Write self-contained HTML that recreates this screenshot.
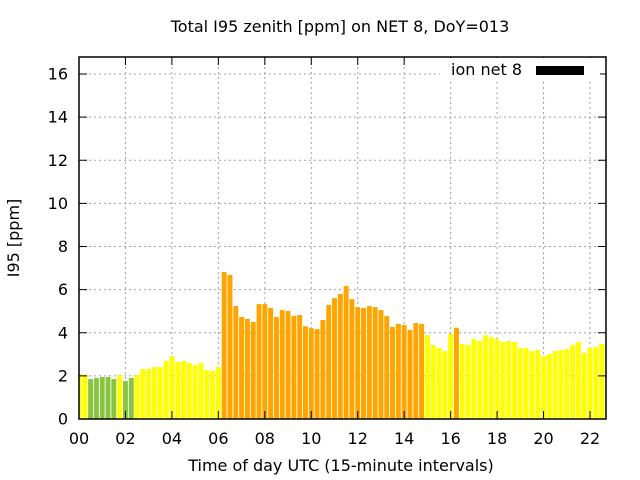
<!DOCTYPE html>
<html><head><meta charset="utf-8"><style>
body{margin:0;background:#fff;}
svg{display:block;font-family:"DejaVu Sans","Liberation Sans",sans-serif;}
</style></head><body>
<svg id="chart" width="640" height="480" viewBox="0 0 640 480">
<rect width="640" height="480" fill="#fff"/>
<text x="340" y="32" font-size="16" text-anchor="middle">Total I95 zenith [ppm] on NET 8, DoY=013</text>
<g id="grid"></g>
<g id="bars"></g>
<g id="axes"></g>
<text transform="translate(19,238) rotate(-90)" font-size="16" text-anchor="middle">I95 [ppm]</text>
<text x="341" y="471" font-size="16" text-anchor="middle">Time of day UTC (15-minute intervals)</text>
<g>
<rect x="440" y="58" width="160" height="24" fill="#fff"/>
<text x="522" y="75" font-size="16" text-anchor="end">ion net 8</text>
<rect x="536" y="66" width="48" height="9" fill="#000"/>
</g>
</svg>
<script>
const values = [2.09,2.04,1.85,1.90,1.95,1.95,1.85,2.04,1.76,1.90,2.04,2.32,2.32,2.41,2.41,2.69,2.92,2.64,2.69,2.60,2.50,2.60,2.27,2.23,2.41,6.82,6.68,5.24,4.73,4.64,4.50,5.33,5.33,5.15,4.73,5.05,5.01,4.78,4.82,4.30,4.21,4.17,4.59,5.29,5.61,5.80,6.17,5.56,5.19,5.15,5.24,5.19,5.05,4.78,4.27,4.41,4.36,4.13,4.45,4.41,3.89,3.43,3.29,3.15,3.96,4.23,3.48,3.43,3.71,3.62,3.89,3.80,3.71,3.57,3.62,3.57,3.29,3.29,3.15,3.20,2.92,3.01,3.15,3.20,3.25,3.43,3.57,3.06,3.29,3.34,3.48,3.52];
const yTicks = [0,2,4,6,8,10,12,14,16];
const xTickLabels = ["00","02","04","06","08","10","12","14","16","18","20","22"];
const xTickHours = [0,2,4,6,8,10,12,14,16,18,20,22];

const L=79,R=606,T=57,B=419;
const xs=h=>L+h*(590-L)/22;
const ys=v=>B-v*(B-74)/16;
const NS="http://www.w3.org/2000/svg";
function mk(tag,attrs,parent){const e=document.createElementNS(NS,tag);for(const k in attrs)e.setAttribute(k,attrs[k]);parent.appendChild(e);return e;}
const grid=document.getElementById('grid'),bars=document.getElementById('bars'),axes=document.getElementById('axes');
yTicks.forEach(v=>{
  if(v>0){const g=mk('line',{x1:L,x2:R,y1:ys(v),y2:ys(v),stroke:'#a0a0a0','stroke-dasharray':'2,3'},grid);
  
  }
  const t=mk('text',{x:L-11,y:ys(v)+5.5,'font-size':16,'text-anchor':'end'},axes);t.textContent=v;
  
  
  mk('line',{x1:L,x2:L+8,y1:ys(v),y2:ys(v),stroke:'#000'},axes);
  mk('line',{x1:R,x2:R-8,y1:ys(v),y2:ys(v),stroke:'#000'},axes);
});
xTickHours.forEach((h,i)=>{
  if(h>0){const g=mk('line',{x1:xs(h),x2:xs(h),y1:T,y2:B,stroke:'#a0a0a0','stroke-dasharray':'2,3'},grid);
  
  }
  const t=mk('text',{x:xs(h),y:444,'font-size':16,'text-anchor':'middle'},axes);t.textContent=xTickLabels[i];
  
  
  mk('line',{x1:xs(h),x2:xs(h),y1:B,y2:B-8,stroke:'#000'},axes);
  mk('line',{x1:xs(h),x2:xs(h),y1:T,y2:T+8,stroke:'#000'},axes);
});
const bw=(xs(0.25)-xs(0))*0.85;
values.forEach((v,i)=>{
  const c=xs(i*0.25);
  let x0=Math.max(L,c-bw/2),x1=Math.min(R,c+bw/2);
  const col=v<2?'#88c440':(v<4?'#ffff00':'#ffa500');
  const r=mk('rect',{x:x0,y:ys(v),width:x1-x0,height:B-ys(v),fill:col},bars);
  
  
});
mk('rect',{x:L,y:T,width:R-L,height:B-T,fill:'none',stroke:'#000','stroke-width':1.5},axes);
</script>
</body></html>
